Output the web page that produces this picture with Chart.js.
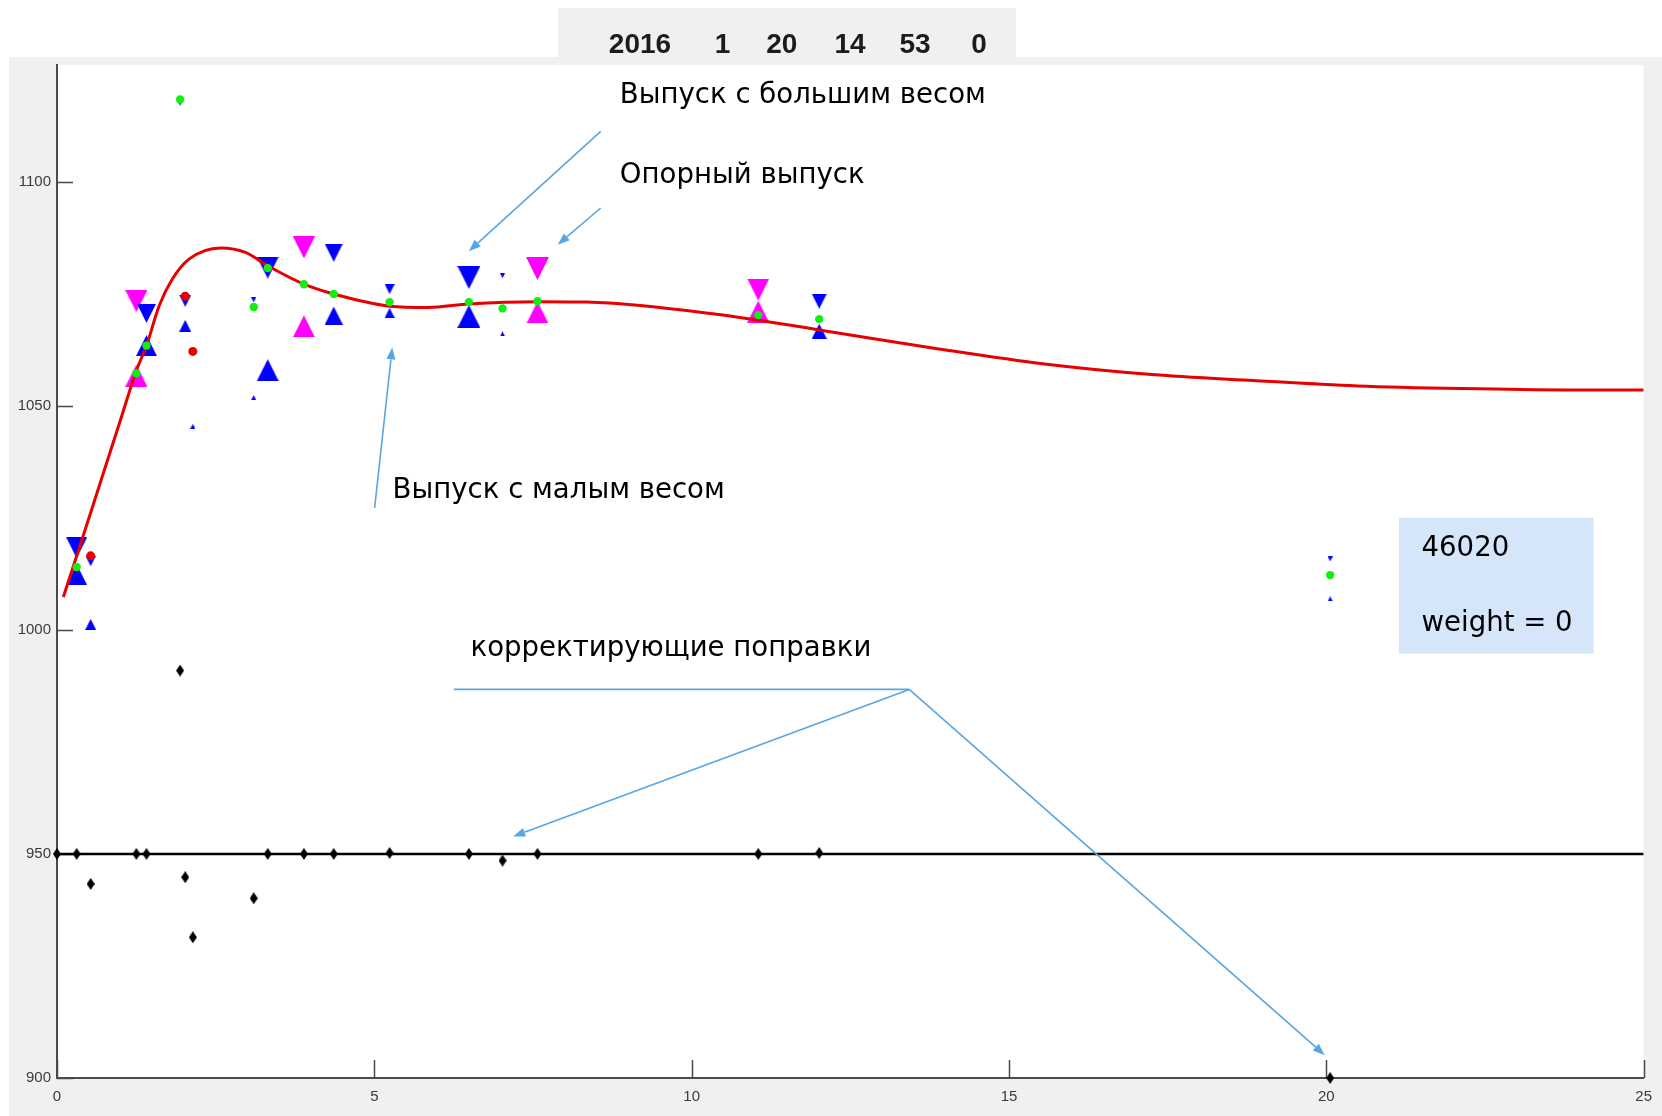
<!DOCTYPE html>
<html>
<head>
<meta charset="utf-8">
<script src="https://cdn.jsdelivr.net/npm/chart.js"></script>
<style>
  html, body { margin: 0; padding: 0; background: #ffffff; }
  canvas { display: block; }
</style>
</head>
<body>
<canvas id="chart" width="1662" height="1116"></canvas>
<script>
// ---- axis ticks ----
const xTicks = [0, 5, 10, 15, 20, 25];
const yTicks = [900, 950, 1000, 1050, 1100];

// ---- header: date and time of the session ----
const titleParts = ['2016', '1', '20', '14', '53', '0'];

// ---- releases: upper (down-pointing) estimates ----
const blueDownX = [0.31, 0.53, 1.41, 1.94, 2.02, 3.10, 3.32, 4.36, 5.24, 6.49, 7.02, 12.01, 20.06];
const blueDownY = [1018.3, 1015.3, 1070.6, 1117.5, 1073.4, 1073.6, 1080.8, 1084.1, 1076.0, 1078.6, 1079.0, 1073.3, 1015.8];

// ---- releases: lower (up-pointing) estimates ----
const blueUpX = [0.31, 0.53, 1.41, 2.02, 2.14, 3.10, 3.32, 4.36, 5.24, 6.49, 7.02, 12.01, 20.06];
const blueUpY = [1012.3, 1001.2, 1063.4, 1067.8, 1045.4, 1051.8, 1057.9, 1070.1, 1070.7, 1069.9, 1066.0, 1066.6, 1006.9];

// ---- reference releases ----
const refDownX = [1.25, 3.89, 7.57, 11.05];
const refDownY = [1073.3, 1085.3, 1080.6, 1075.9];
const refUpX = [1.25, 3.89, 7.57, 11.05];
const refUpY = [1056.7, 1067.7, 1070.8, 1071.0];

// ---- accepted release values ----
const meanX = [0.31, 1.25, 1.41, 1.94, 3.10, 3.32, 3.89, 4.36, 5.24, 6.49, 7.02, 7.57, 11.05, 12.01, 20.06];
const meanY = [1014.0, 1057.2, 1063.4, 1118.3, 1072.0, 1080.7, 1077.1, 1074.9, 1073.1, 1073.1, 1071.7, 1073.3, 1070.2, 1069.3, 1012.2];

// ---- rejected release values ----
const rejectX = [0.53, 2.02, 2.14];
const rejectY = [1016.5, 1074.4, 1062.1];

// ---- correcting amendments (around the 950 baseline) ----
const corrX = [0, 0.31, 0.53, 1.25, 1.41, 1.94, 2.02, 2.14, 3.10, 3.32, 3.89, 4.36, 5.24, 6.49, 7.02, 7.57, 11.05, 12.01, 20.06];
const corrY = [950, 950, 943.3, 950, 950, 990.9, 944.8, 931.4, 940.1, 950, 950, 950, 950.2, 950, 948.5, 950, 950, 950.2, 900];

// ---- fitted profile ----
const fitX = [0.10, 0.53, 1.00, 1.25, 1.41, 1.61, 1.82, 2.08, 2.58, 2.97, 3.32, 3.89, 4.36, 5.24, 5.85, 6.49, 7.57, 8.35, 10.39, 12.01, 13.92, 15.56, 17.20, 18.85, 20.49, 22.13, 23.78, 25.0];
const fitY = [1007.3, 1026.1, 1046.8, 1057.8, 1063.4, 1072.3, 1078.3, 1082.7, 1085.2, 1084.2, 1081.2, 1077.1, 1074.9, 1072.2, 1071.9, 1072.7, 1073.2, 1073.1, 1070.4, 1066.9, 1062.6, 1059.3, 1057.0, 1055.6, 1054.4, 1053.8, 1053.5, 1053.5];

// ---- baseline of the amendments ----
const baseX = [0, 25];
const baseY = [950, 950];

// marker sizes in pixels (release weight)
const blueDownPx = [21, 10, 19, 5, 12, 5, 22, 18, 10, 23, 5, 15, 5];
const blueUpPx   = [21, 11, 21, 12, 5, 5, 22, 18, 10, 23, 5, 15, 5];
const refDownPx  = [22, 22, 23, 22];
const refUpPx    = [22, 22, 22, 22];

const zip = (xs, ys) => xs.map((x, i) => ({ x, y: ys[i] }));

function triMarker(size, color, down) {
  const s = Math.max(3, Math.round(size));
  const c = document.createElement('canvas');
  c.width = s; c.height = s;
  const g = c.getContext('2d');
  g.fillStyle = color;
  g.beginPath();
  if (down) { g.moveTo(0, 0); g.lineTo(s, 0); g.lineTo(s / 2, s); }
  else { g.moveTo(s / 2, 0); g.lineTo(s, s); g.lineTo(0, s); }
  g.closePath();
  g.fill();
  return c;
}

function diamondMarker(w, h, color) {
  const c = document.createElement('canvas');
  c.width = w; c.height = h;
  const g = c.getContext('2d');
  g.fillStyle = color;
  g.beginPath();
  g.moveTo(w / 2, 0); g.lineTo(w, h / 2); g.lineTo(w / 2, h); g.lineTo(0, h / 2);
  g.closePath();
  g.fill();
  return c;
}

const BLUE = '#0000ff', MAGENTA = '#ff00ff', GREEN = '#12ee12', RED = '#e80000';

function triDataset(xs, ys, px, color, down, order) {
  return {
    type: 'scatter',
    data: zip(xs, ys),
    pointStyle: px.map(s => triMarker(s, color, down)),
    pointRadius: px.map(s => s / 2),
    borderWidth: 0,
    backgroundColor: color,
    clip: false,
    order
  };
}

// ---- annotations (anchored in data units) ----
const arrows = [
  { from: [8.567, 1111.2], to: [6.489, 1084.45] },
  { from: [8.567, 1094.1], to: [7.889, 1085.9] },
  { from: [5.005, 1027.2], to: [5.282, 1063.0] },
  { from: [13.428, 986.7], to: [7.188, 953.9] },
  { from: [13.428, 986.7], to: [19.975, 905.1] }
];
const leaders = [{ from: [6.251, 986.7], to: [13.428, 986.7] }];
const notes = [
  { text: 'Выпуск с большим весом', at: [8.868, 1117.6] },
  { text: 'Опорный выпуск', at: [8.868, 1099.7] },
  { text: 'Выпуск с малым весом', at: [5.287, 1029.3] },
  { text: 'корректирующие поправки', at: [6.516, 994.1] }
];
const infoBox = { from: [21.144, 1025.0], to: [24.212, 994.7] };
const infoLines = [
  { text: '46020', at: [21.50, 1016.5] },
  { text: 'weight = 0', at: [21.50, 999.7] }
];

const NOTE_FONT = '29px "DejaVu Sans", Verdana, sans-serif';
const ARROW = '#58a6e2';

const decorations = {
  id: 'decorations',
  beforeDraw(chart) {
    const { ctx, chartArea: a, width, height } = chart;
    ctx.save();
    ctx.fillStyle = '#ffffff';
    ctx.fillRect(0, 0, width, height);
    ctx.fillStyle = '#f0f0f0';
    ctx.fillRect(9, 57, width - 9, height - 57);
    ctx.fillRect(558, 8, 458, 50);
    ctx.fillStyle = '#ffffff';
    ctx.fillRect(a.left, a.top, a.right - a.left, a.bottom - a.top);
    // header
    const centers = [640, 722.5, 781.7, 850, 915, 979];
    ctx.fillStyle = '#1c1c1c';
    ctx.font = 'bold 28px "Liberation Sans", Arial, sans-serif';
    ctx.textAlign = 'center';
    ctx.textBaseline = 'alphabetic';
    titleParts.forEach((t, i) => ctx.fillText(t, centers[i], 53));
    ctx.restore();
  },
  beforeDatasetsDraw(chart) {
    const { ctx, chartArea: a } = chart;
    const xs = chart.scales.x, ys = chart.scales.y;
    ctx.save();
    ctx.strokeStyle = '#4a4a4a';
    ctx.lineWidth = 1.5;
    ctx.beginPath();
    xs.ticks.forEach(t => {
      const p = Math.round(xs.getPixelForValue(t.value)) + 0.5;
      ctx.moveTo(p, a.bottom); ctx.lineTo(p, a.bottom - 18);
    });
    ys.ticks.forEach(t => {
      const p = Math.round(ys.getPixelForValue(t.value)) + 0.5;
      ctx.moveTo(a.left, p); ctx.lineTo(a.left + 16, p);
    });
    ctx.stroke();
    ctx.restore();
  },
  afterDraw(chart) {
    const { ctx } = chart;
    const xs = chart.scales.x, ys = chart.scales.y;
    const P = ([x, y]) => [xs.getPixelForValue(x), ys.getPixelForValue(y)];
    ctx.save();
    // info box
    const b0 = P(infoBox.from), b1 = P(infoBox.to);
    ctx.fillStyle = '#d5e5fa';
    ctx.fillRect(b0[0], b0[1], b1[0] - b0[0], b1[1] - b0[1]);

    // arrows
    ctx.strokeStyle = ARROW;
    ctx.fillStyle = ARROW;
    ctx.lineWidth = 1.6;
    leaders.forEach(l => {
      const p0 = P(l.from), p1 = P(l.to);
      ctx.beginPath(); ctx.moveTo(p0[0], p0[1]); ctx.lineTo(p1[0], p1[1]); ctx.stroke();
    });
    arrows.forEach(ar => {
      const p0 = P(ar.from), p1 = P(ar.to);
      const ang = Math.atan2(p1[1] - p0[1], p1[0] - p0[0]);
      const len = 12, half = 4.5;
      const bx = p1[0] - len * Math.cos(ang), by = p1[1] - len * Math.sin(ang);
      ctx.beginPath(); ctx.moveTo(p0[0], p0[1]); ctx.lineTo(bx, by); ctx.stroke();
      ctx.beginPath();
      ctx.moveTo(p1[0], p1[1]);
      ctx.lineTo(bx + half * Math.sin(ang), by - half * Math.cos(ang));
      ctx.lineTo(bx - half * Math.sin(ang), by + half * Math.cos(ang));
      ctx.closePath(); ctx.fill();
    });

    // texts
    ctx.font = NOTE_FONT;
    ctx.fillStyle = '#000000';
    ctx.textAlign = 'left';
    ctx.textBaseline = 'alphabetic';
    const squeeze = 366 / ctx.measureText(notes[0].text).width;
    [...notes, ...infoLines].forEach(n => {
      const p = P(n.at);
      ctx.save();
      ctx.translate(p[0], p[1]);
      ctx.scale(squeeze, 1);
      ctx.fillText(n.text, 0, 0);
      ctx.restore();
    });
    ctx.restore();
  }
};

const tickFont = { family: '"Liberation Sans", Arial, sans-serif', size: 15 };
const plainLabel = v => String(v);

new Chart(document.getElementById('chart'), {
  type: 'scatter',
  data: {
    datasets: [
      {
        type: 'line',
        data: zip(baseX, baseY),
        borderColor: '#000000',
        borderWidth: 2.5,
        pointRadius: 0,
        fill: false,
        order: 9
      },
      triDataset(refDownX, refDownY, refDownPx, MAGENTA, true, 8),
      triDataset(refUpX, refUpY, refUpPx, MAGENTA, false, 8),
      triDataset(blueDownX, blueDownY, blueDownPx, BLUE, true, 7),
      triDataset(blueUpX, blueUpY, blueUpPx, BLUE, false, 7),
      {
        type: 'line',
        data: zip(fitX, fitY),
        borderColor: RED,
        borderWidth: 3,
        pointRadius: 0,
        fill: false,
        cubicInterpolationMode: 'monotone',
        order: 5
      },
      {
        type: 'scatter',
        data: zip(corrX, corrY),
        pointStyle: diamondMarker(8, 12, '#000000'),
        pointRadius: 5,
        borderWidth: 0,
        clip: false,
        order: 4
      },
      {
        type: 'scatter',
        data: zip(rejectX, rejectY),
        pointStyle: 'circle',
        pointRadius: 4.5,
        backgroundColor: RED,
        borderWidth: 0,
        clip: false,
        order: 3
      },
      {
        type: 'scatter',
        data: zip(meanX, meanY),
        pointStyle: 'circle',
        pointRadius: 4.2,
        backgroundColor: GREEN,
        borderWidth: 0,
        clip: false,
        order: 2
      }
    ]
  },
  options: {
    responsive: false,
    animation: false,
    events: [],
    layout: { padding: { top: 65, right: 10, left: 0, bottom: 0 } },
    plugins: { legend: { display: false }, tooltip: { enabled: false }, title: { display: false } },
    scales: {
      x: {
        type: 'linear',
        min: 0,
        max: 25,
        afterBuildTicks: s => { s.ticks = xTicks.map(v => ({ value: v })); },
        afterFit: s => { s.height = 38; },
        grid: { display: false, drawTicks: false },
        border: { display: true, color: '#4a4a4a', width: 2 },
        ticks: { color: '#3a3a3a', font: tickFont, padding: 10, maxRotation: 0, autoSkip: false, callback: plainLabel }
      },
      y: {
        type: 'linear',
        min: 900,
        max: 1126,
        afterBuildTicks: s => { s.ticks = yTicks.map(v => ({ value: v })); },
        afterFit: s => { s.width = 57; },
        grid: { display: false, drawTicks: false },
        border: { display: true, color: '#4a4a4a', width: 2 },
        ticks: { color: '#3a3a3a', font: tickFont, padding: 6, autoSkip: false, callback: plainLabel }
      }
    }
  },
  plugins: [decorations]
});
</script>
</body>
</html>
